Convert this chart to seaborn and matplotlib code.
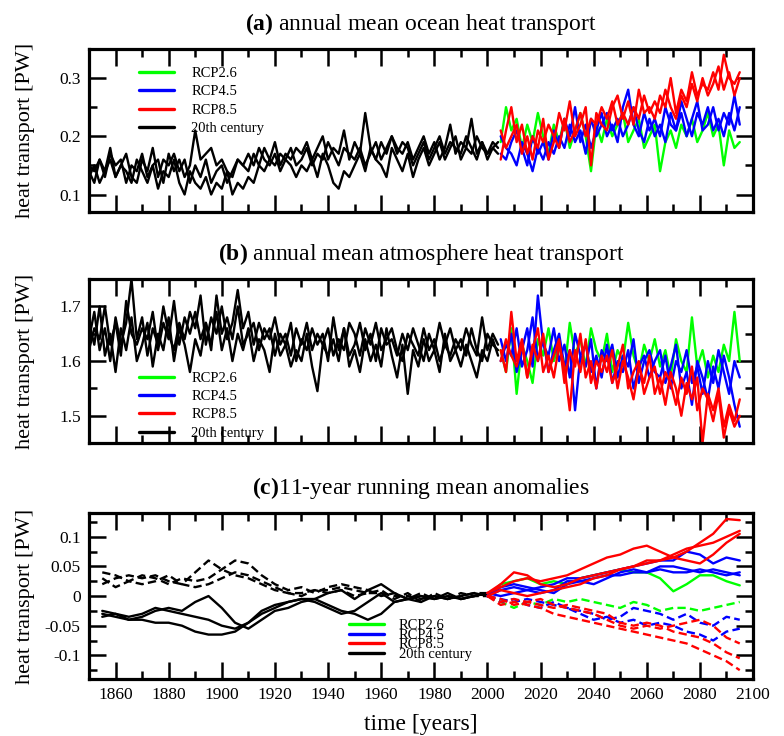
import numpy as np
import matplotlib
matplotlib.use("Agg")
import matplotlib.pyplot as plt
from matplotlib.lines import Line2D
from matplotlib.ticker import MultipleLocator, FuncFormatter
import seaborn as sns

# ---------------- data ----------------
years_hist = np.arange(1850, 2005, 2)      # 78 values
years_rcp = np.arange(2005, 2096, 2)       # 46 values
years_hist_c = np.arange(1855, 2001, 5)    # 30 values
years_rcp_c = np.arange(2000, 2096, 5)     # 20 values

# (a) ocean heat transport, 20th century members
ocean_hist_1 = [.15, .14, .16, .13, .17, .15, .16, .12, .15, .14,
                .17, .13, .15, .16, .12, .17, .14, .16, .13, .15,
                .21, .16, .17, .18, .15, .16, .14, .13, .16, .15,
                .14, .17, .15, .18, .16, .19, .15, .17, .16, .18,
                .17, .19, .16, .18, .20, .16, .18, .17, .21, .16,
                .19, .17, .24, .18, .16, .19, .17, .20, .18, .17,
                .19, .16, .18, .20, .17, .19, .16, .18, .22, .17,
                .19, .18, .23, .17, .19, .16, .18, .17]
ocean_hist_2 = [.13, .15, .12, .14, .16, .13, .15, .14, .12, .16,
                .14, .12, .15, .11, .14, .13, .16, .12, .10, .14,
                .12, .11, .13, .10, .12, .11, .14, .10, .12, .11,
                .13, .12, .15, .14, .16, .15, .17, .16, .18, .15,
                .16, .18, .15, .17, .16, .19, .17, .15, .18, .17,
                .16, .18, .15, .17, .19, .16, .18, .20, .17, .19,
                .18, .15, .17, .19, .16, .18, .20, .17, .19, .18,
                .17, .20, .18, .16, .19, .17, .18, .19]
ocean_hist_3 = [.14, .12, .16, .14, .18, .13, .15, .17, .13, .12,
                .16, .14, .18, .13, .16, .15, .17, .14, .16, .12,
                .15, .13, .16, .12, .14, .15, .12, .14, .16, .15,
                .17, .15, .18, .16, .15, .17, .14, .16, .15, .13,
                .15, .14, .16, .13, .17, .15, .12, .11, .14, .13,
                .15, .17, .14, .18, .16, .15, .13, .18, .16, .14,
                .17, .13, .16, .18, .15, .17, .19, .16, .18, .20,
                .16, .18, .17, .20, .18, .17, .19, .18]

ocean_rcp26 = [.19, .25, .21, .23, .18, .22, .19, .24, .20, .17,
               .22, .19, .23, .18, .21, .24, .20, .14, .22, .19,
               .23, .20, .22, .24, .19, .21, .23, .18, .20, .22,
               .14, .19, .21, .18, .22, .20, .23, .19, .21, .24,
               .20, .22, .15, .21, .18, .19]
ocean_rcp45_1 = [.17, .16, .19, .21, .18, .15, .20, .17, .19, .16,
                 .21, .18, .23, .20, .25, .19, .22, .18, .21, .24,
                 .20, .22, .19, .25, .28, .22, .20, .24, .21, .23,
                 .20, .25, .22, .21, .24, .20, .23, .26, .21, .22,
                 .25, .21, .24, .22, .27, .22]
ocean_rcp45_2 = [.20, .18, .17, .15, .19, .17, .14, .18, .16, .19,
                 .17, .20, .18, .22, .19, .21, .17, .23, .20, .22,
                 .24, .21, .23, .20, .22, .25, .21, .19, .23, .20,
                 .22, .19, .24, .21, .26, .23, .20, .24, .22, .25,
                 .21, .23, .20, .24, .21, .25]
ocean_rcp85_1 = [.16, .21, .25, .19, .22, .17, .20, .18, .23, .16,
                 .19, .24, .21, .26, .20, .22, .25, .15, .24, .22,
                 .21, .25, .27, .23, .26, .22, .28, .24, .25, .23,
                 .27, .25, .30, .24, .28, .26, .31, .27, .29, .28,
                 .31, .28, .34, .30, .29, .31]
ocean_rcp85_2 = [.21, .18, .20, .22, .17, .20, .16, .21, .19, .22,
                 .20, .18, .23, .19, .21, .24, .20, .23, .22, .25,
                 .23, .26, .22, .24, .22, .25, .23, .27, .24, .26,
                 .24, .28, .25, .23, .27, .25, .29, .26, .30, .27,
                 .29, .32, .28, .31, .27, .30]

# (b) atmosphere heat transport, 20th century members
atmos_hist_1 = [1.64, 1.69, 1.62, 1.66, 1.60, 1.68, 1.63, 1.67, 1.75, 1.64,
                1.68, 1.61, 1.66, 1.63, 1.70, 1.65, 1.62, 1.67, 1.64, 1.69,
                1.66, 1.72, 1.63, 1.68, 1.65, 1.70, 1.64, 1.67, 1.73, 1.66,
                1.69, 1.63, 1.67, 1.64, 1.66, 1.61, 1.65, 1.63, 1.67, 1.60,
                1.64, 1.62, 1.66, 1.63, 1.65, 1.60, 1.68, 1.62, 1.66, 1.61,
                1.63, 1.67, 1.62, 1.65, 1.60, 1.66, 1.63, 1.64, 1.61, 1.65,
                1.62, 1.66, 1.63, 1.60, 1.65, 1.62, 1.67, 1.63, 1.61, 1.64,
                1.62, 1.66, 1.63, 1.61, 1.68, 1.62, 1.65, 1.63]
atmos_hist_2 = [1.67, 1.63, 1.70, 1.61, 1.65, 1.58, 1.66, 1.62, 1.68, 1.60,
                1.63, 1.67, 1.59, 1.65, 1.62, 1.68, 1.60, 1.66, 1.63, 1.58,
                1.64, 1.61, 1.67, 1.63, 1.69, 1.62, 1.66, 1.60, 1.65, 1.62,
                1.66, 1.60, 1.64, 1.62, 1.58, 1.65, 1.61, 1.63, 1.59, 1.62,
                1.60, 1.65, 1.59, 1.545, 1.63, 1.61, 1.64, 1.60, 1.66, 1.59,
                1.62, 1.58, 1.64, 1.60, 1.63, 1.59, 1.66, 1.61, 1.57, 1.63,
                1.54, 1.62, 1.59, 1.64, 1.60, 1.62, 1.58, 1.65, 1.60, 1.62,
                1.59, 1.63, 1.60, 1.57, 1.62, 1.60, 1.64, 1.61]
atmos_hist_3 = [1.62, 1.66, 1.64, 1.70, 1.63, 1.67, 1.61, 1.71, 1.65, 1.63,
                1.66, 1.64, 1.69, 1.62, 1.67, 1.64, 1.71, 1.63, 1.68, 1.65,
                1.69, 1.64, 1.67, 1.62, 1.72, 1.65, 1.68, 1.64, 1.70, 1.63,
                1.65, 1.67, 1.62, 1.66, 1.64, 1.68, 1.63, 1.65, 1.61, 1.66,
                1.63, 1.67, 1.62, 1.65, 1.63, 1.66, 1.61, 1.64, 1.62, 1.67,
                1.65, 1.61, 1.66, 1.63, 1.67, 1.62, 1.64, 1.66, 1.62, 1.60,
                1.65, 1.63, 1.61, 1.66, 1.62, 1.64, 1.60, 1.63, 1.66, 1.62,
                1.64, 1.61, 1.66, 1.62, 1.60, 1.65, 1.63, 1.62]

atmos_rcp26 = [1.62, 1.58, 1.66, 1.54, 1.63, 1.60, 1.56, 1.64, 1.61, 1.66,
               1.60, 1.63, 1.58, 1.67, 1.61, 1.64, 1.59, 1.66, 1.62, 1.60,
               1.65, 1.58, 1.62, 1.60, 1.67, 1.61, 1.58, 1.63, 1.60, 1.64,
               1.59, 1.62, 1.57, 1.64, 1.60, 1.58, 1.68, 1.59, 1.62, 1.57,
               1.61, 1.58, 1.63, 1.60, 1.69, 1.60]
atmos_rcp45_1 = [1.64, 1.60, 1.65, 1.58, 1.62, 1.66, 1.59, 1.72, 1.63, 1.61,
                 1.66, 1.60, 1.63, 1.57, 1.65, 1.61, 1.59, 1.64, 1.55, 1.62,
                 1.60, 1.63, 1.57, 1.61, 1.59, 1.64, 1.56, 1.60, 1.62, 1.58,
                 1.57, 1.61, 1.55, 1.60, 1.58, 1.62, 1.56, 1.59, 1.54, 1.60,
                 1.56, 1.62, 1.58, 1.54, 1.60, 1.57]
atmos_rcp45_2 = [1.60, 1.63, 1.61, 1.66, 1.59, 1.62, 1.68, 1.60, 1.64, 1.58,
                 1.62, 1.65, 1.59, 1.62, 1.51, 1.61, 1.63, 1.58, 1.61, 1.57,
                 1.63, 1.56, 1.60, 1.58, 1.62, 1.55, 1.59, 1.61, 1.57, 1.60,
                 1.62, 1.56, 1.59, 1.63, 1.55, 1.58, 1.52, 1.60, 1.57, 1.53,
                 1.59, 1.55, 1.61, 1.57, 1.52, 1.48]
atmos_rcp85_1 = [1.62, 1.58, 1.69, 1.60, 1.64, 1.57, 1.63, 1.60, 1.65, 1.58,
                 1.61, 1.64, 1.56, 1.62, 1.59, 1.65, 1.57, 1.60, 1.55, 1.61,
                 1.58, 1.62, 1.55, 1.60, 1.57, 1.53, 1.59, 1.56, 1.61, 1.54,
                 1.57, 1.52, 1.58, 1.55, 1.50, 1.56, 1.53, 1.57, 1.45, 1.54,
                 1.51, 1.55, 1.48, 1.52, 1.49, 1.53]
atmos_rcp85_2 = [1.60, 1.64, 1.61, 1.59, 1.63, 1.57, 1.62, 1.66, 1.58, 1.61,
                 1.57, 1.63, 1.59, 1.51, 1.62, 1.58, 1.64, 1.56, 1.60, 1.58,
                 1.61, 1.56, 1.59, 1.63, 1.55, 1.58, 1.60, 1.54, 1.57, 1.59,
                 1.54, 1.58, 1.56, 1.52, 1.57, 1.54, 1.59, 1.51, 1.55, 1.53,
                 1.49, 1.54, 1.46, 1.51, 1.48, 1.50]

# (c) 11-year running mean anomalies: solid = ocean, dashed = atmosphere
anom_ocean_hist_1 = [-.03, -.035, -.04, -.035, -.025, -.02, -.025, -.01, 0.0, -.02,
                     -.045, -.055, -.04, -.025, -.02, -.01, -.005, -.015, -.025, -.03,
                     -.04, -.03, -.01, -.005, 0.0, -.005, .005, -.005, 0.0, .005]
anom_ocean_hist_2 = [-.025, -.03, -.04, -.04, -.045, -.045, -.05, -.06, -.065, -.065,
                     -.06, -.045, -.03, -.02, -.01, -.005, -.01, -.02, -.03, -.025,
                     -.01, .005, -.01, -.005, -.01, 0.0, -.005, 0.0, .005, 0.0]
anom_ocean_hist_3 = [-.035, -.03, -.035, -.03, -.02, -.025, -.03, -.035, -.04, -.05,
                     -.055, -.045, -.025, -.015, -.01, -.005, -.005, .005, .01, -.005,
                     .01, .02, .005, -.005, 0.0, -.005, 0.0, -.005, 0.0, .005]
anom_atmos_hist_1 = [.02, .03, .035, .03, .035, .025, .02, .04, .06, .045,
                     .035, .03, .02, .01, .005, .005, .01, .01, .015, .01,
                     .005, .005, 0.0, 0.0, -.005, 0.0, -.005, 0.0, .005, .005]
anom_atmos_hist_2 = [.04, .035, .025, .035, .03, .02, .03, .025, .03, .045,
                     .06, .055, .035, .02, .01, .015, .005, .015, .02, .015,
                     .01, 0.0, .005, -.005, .005, -.005, 0.0, -.005, 0.0, .005]
anom_atmos_hist_3 = [.03, .015, .025, .02, .025, .035, .02, .015, .02, .03,
                     .04, .035, .025, .015, .005, 0.0, .01, .005, .01, 0.0,
                     .005, .01, -.005, .005, -.01, .005, -.005, .005, 0.0, 0.0]

anom_ocean_rcp26 = [0.0, .02, .025, .03, .02, .025, .02, .03, .035, .04,
                    .045, .04, .04, .03, .008, .02, .035, .035, .025, .018]
anom_ocean_rcp45_1 = [0.0, .01, .015, .01, .015, .02, .03, .03, .035, .04,
                      .045, .05, .055, .06, .06, .075, .07, .055, .065, .06]
anom_ocean_rcp45_2 = [.005, 0.0, .005, .01, .005, .01, .025, .025, .03, .035,
                      .035, .04, .04, .045, .04, .04, .045, .04, .035, .04]
anom_ocean_rcp45_3 = [0.0, .015, .02, .015, .01, .005, .02, .025, .02, .03,
                      .04, .045, .04, .05, .05, .045, .04, .045, .04, .035]
anom_ocean_rcp85_1 = [.005, .02, .04, .035, .02, .015, .02, .03, .035, .04,
                      .045, .05, .055, .06, .065, .075, .09, .105, .13, .128]
anom_ocean_rcp85_2 = [.005, .015, .025, .03, .025, .03, .035, .045, .055, .065,
                      .07, .08, .085, .075, .065, .06, .055, .07, .09, .105]
anom_ocean_rcp85_3 = [0.0, .01, .005, 0.0, .005, .01, .015, .02, .03, .035,
                      .045, .05, .06, .06, .07, .08, .085, .09, .10, .11]

anom_atmos_rcp26 = [0.0, -.01, -.02, -.01, -.015, -.005, -.01, -.005, -.01, -.015,
                    -.02, -.01, -.015, -.025, -.02, -.02, -.025, -.02, -.015, -.01]
anom_atmos_rcp45_1 = [0.0, -.005, -.01, -.005, -.01, -.015, -.02, -.025, -.03, -.04,
                      -.035, -.02, -.025, -.03, -.04, -.03, -.045, -.05, -.035, -.04]
anom_atmos_rcp45_2 = [0.0, -.01, -.005, -.015, -.02, -.01, -.02, -.03, -.04, -.035,
                      -.045, -.04, -.05, -.045, -.05, -.06, -.065, -.075, -.06, -.055]
anom_atmos_rcp85_1 = [0.0, -.01, -.005, -.01, -.015, -.02, -.015, -.02, -.025, -.03,
                      -.045, -.05, -.045, -.05, -.06, -.065, -.07, -.08, -.095, -.105]
anom_atmos_rcp85_2 = [0.0, -.015, -.01, -.015, -.02, -.03, -.035, -.04, -.045, -.05,
                      -.055, -.06, -.065, -.07, -.075, -.08, -.09, -.10, -.11, -.125]
anom_atmos_rcp85_3 = [0.0, -.005, -.015, -.01, -.005, -.015, -.02, -.025, -.03, -.04,
                      -.05, -.055, -.05, -.055, -.05, -.045, -.04, -.05, -.07, -.08]

scenario_labels = ["RCP2.6", "RCP4.5", "RCP8.5", "20th century"]
scenario_colors = ["#00ff00", "#0000ff", "#ff0000", "black"]
GREEN, BLUE, RED, BLACK = scenario_colors

# ---------------- style ----------------
sns.set_style("ticks")
plt.rcParams["font.family"] = ["Liberation Serif", "DejaVu Serif"]
plt.rcParams["mathtext.fontset"] = "custom"
plt.rcParams["mathtext.rm"] = "Liberation Serif"
plt.rcParams["mathtext.bf"] = "Liberation Serif:bold"
for key in ("axes.edgecolor", "xtick.color", "ytick.color", "text.color", "axes.labelcolor"):
    plt.rcParams[key] = "black"

fig = plt.figure(figsize=(7.84, 7.36), dpi=100)
ax_a = fig.add_axes([0.1135, 0.712, 0.847, 0.2215])
ax_b = fig.add_axes([0.1135, 0.398, 0.847, 0.2228])
ax_c = fig.add_axes([0.1135, 0.0774, 0.847, 0.2255])

LW = 1.7


def line(ax, x, y, color, ls="-"):
    sns.lineplot(x=x, y=y, ax=ax, color=color, linewidth=LW, linestyle=ls,
                 estimator=None, sort=False)


# panel a
for y in (ocean_hist_1, ocean_hist_2, ocean_hist_3):
    line(ax_a, years_hist, y, BLACK)
line(ax_a, years_rcp, ocean_rcp26, GREEN)
line(ax_a, years_rcp, ocean_rcp45_1, BLUE)
line(ax_a, years_rcp, ocean_rcp45_2, BLUE)
line(ax_a, years_rcp, ocean_rcp85_1, RED)
line(ax_a, years_rcp, ocean_rcp85_2, RED)

# panel b
for y in (atmos_hist_1, atmos_hist_2, atmos_hist_3):
    line(ax_b, years_hist, y, BLACK)
line(ax_b, years_rcp, atmos_rcp26, GREEN)
line(ax_b, years_rcp, atmos_rcp45_1, BLUE)
line(ax_b, years_rcp, atmos_rcp45_2, BLUE)
line(ax_b, years_rcp, atmos_rcp85_1, RED)
line(ax_b, years_rcp, atmos_rcp85_2, RED)

# panel c
dash = (0, (3.5, 1.8))
for y in (anom_ocean_hist_1, anom_ocean_hist_2, anom_ocean_hist_3):
    line(ax_c, years_hist_c, y, BLACK)
for y in (anom_atmos_hist_1, anom_atmos_hist_2, anom_atmos_hist_3):
    line(ax_c, years_hist_c, y, BLACK, dash)
line(ax_c, years_rcp_c, anom_ocean_rcp26, GREEN)
line(ax_c, years_rcp_c, anom_atmos_rcp26, GREEN, dash)
for y in (anom_ocean_rcp45_1, anom_ocean_rcp45_2, anom_ocean_rcp45_3):
    line(ax_c, years_rcp_c, y, BLUE)
for y in (anom_atmos_rcp45_1, anom_atmos_rcp45_2):
    line(ax_c, years_rcp_c, y, BLUE, dash)
for y in (anom_ocean_rcp85_1, anom_ocean_rcp85_2, anom_ocean_rcp85_3):
    line(ax_c, years_rcp_c, y, RED)
for y in (anom_atmos_rcp85_1, anom_atmos_rcp85_2, anom_atmos_rcp85_3):
    line(ax_c, years_rcp_c, y, RED, dash)

# axes formatting
titles = [r"$\mathbf{(a)}$ annual mean ocean heat transport",
          r"$\mathbf{(b)}$ annual mean atmosphere heat transport",
          r"$\mathbf{(c)}$11-year running mean anomalies"]
ylims = [(0.07, 0.35), (1.45, 1.75), (-0.14, 0.14)]
ymaj = [0.1, 0.1, 0.05]
ymin = [0.05, 0.05, 0.025]
yfmt = [lambda v, p: f"{v:g}", lambda v, p: f"{v:g}",
        lambda v, p: "0" if abs(v) < 1e-9 else f"{v:g}"]

for ax, t, yl, mj, mn, fmt in zip((ax_a, ax_b, ax_c), titles, ylims, ymaj, ymin, yfmt):
    ax.set_xlim(1850, 2100)
    ax.set_ylim(*yl)
    ax.set_title(t, fontsize=17, pad=13.5)
    ax.set_ylabel("heat transport [PW]", fontsize=16)
    ax.yaxis.set_label_coords(-0.081, 0.5)
    ax.xaxis.set_major_locator(MultipleLocator(20))
    ax.xaxis.set_minor_locator(MultipleLocator(10))
    ax.yaxis.set_major_locator(MultipleLocator(mj))
    ax.yaxis.set_minor_locator(MultipleLocator(mn))
    ax.yaxis.set_major_formatter(FuncFormatter(fmt))
    ax.tick_params(axis="both", which="major", direction="in", top=True, right=True,
                   bottom=True, left=True, length=12, width=1.8, labelsize=12.5, pad=6)
    ax.tick_params(axis="both", which="minor", direction="in", top=True, right=True,
                   bottom=True, left=True, length=6, width=1.8)
    for s in ax.spines.values():
        s.set_linewidth(2.3)
    ax.set_xlabel("")

ax_a.tick_params(axis="x", labelbottom=False)
ax_b.tick_params(axis="x", labelbottom=False)
ax_c.set_xlabel("time [years]", fontsize=17, labelpad=8)

handles = [Line2D([], [], color=c, lw=2.4) for c in scenario_colors]
ax_a.legend(handles, scenario_labels, loc="upper left", bbox_to_anchor=(0.055, 0.97),
            frameon=False, fontsize=10.5, handlelength=2.4, handletextpad=1.2,
            labelspacing=0.35)
ax_b.legend(handles, scenario_labels, loc="lower left", bbox_to_anchor=(0.055, -0.06),
            frameon=False, fontsize=10.5, handlelength=2.4, handletextpad=1.2,
            labelspacing=0.35)
ax_c.legend(handles, scenario_labels, loc="lower left", bbox_to_anchor=(0.372, 0.03),
            frameon=False, fontsize=10.5, handlelength=2.4, handletextpad=1.0,
            labelspacing=-0.25)

fig.savefig("out.png", dpi=100)
